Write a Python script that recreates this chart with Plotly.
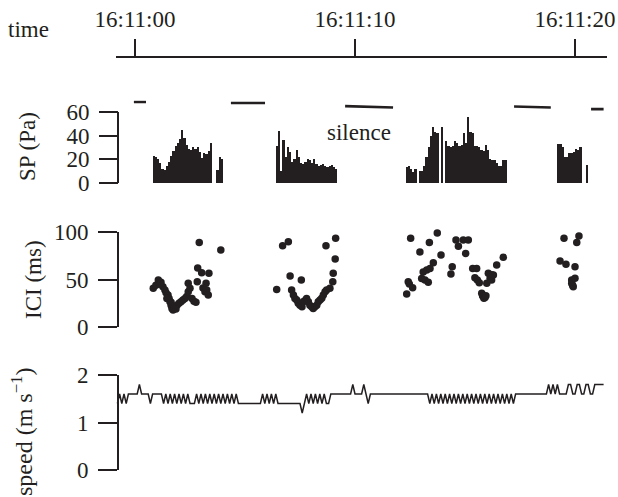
import plotly.graph_objects as go

W, H = 618, 497
INK = "#231f20"
FONT = "Liberation Serif, Times New Roman, serif"

# ---------------- data ----------------
time_tick_vals = [0, 10, 20]                       # seconds after 16:11:00
time_tick_text = ["16:11:00", "16:11:10", "16:11:20"]

# sound pressure bursts (Pa), bars every 0.1 s starting at sp_burst_start
sp_dt = 0.1
sp_burst_start = [0.8, 3.7, 6.4, 12.3, 19.2]
sp_burst_1 = [23, 22, 20, 17, 12, 11, 14, 18, 23, 27, 31, 34, 37, 45, 38, 32, 29, 28, 30, 29, 30, 26, 21, 25, 24, 27, 34]
sp_burst_2 = [11, 22, 20]
sp_burst_3 = [31, 44, 10, 36, 22, 30, 26, 18, 20, 28, 22, 17, 16, 18, 20, 19, 17, 20, 16, 14, 15, 16, 14, 13, 14, 15, 13, 12]
sp_burst_4 = [13, 14, 12, 9, 12, 0, 10, 10, 14, 22, 30, 40, 47, 43, 42, 0, 47, 0, 35, 31, 30, 31, 35, 34, 31, 32, 42, 34,
              56, 43, 42, 31, 31, 30, 28, 27, 32, 28, 20, 19, 19, 17, 14, 14, 19, 19]
sp_burst_5 = [33, 33, 30, 22, 22, 25, 25, 26, 29, 28, 30, 0, 0, 15]
sp_bursts = [sp_burst_1, sp_burst_2, sp_burst_3, sp_burst_4, sp_burst_5]

# silence periods (s) and the level at which their bars are drawn (Pa)
silence_start = [-0.05, 4.36, 9.55, 17.23, 20.73]
silence_end = [0.5, 5.91, 11.73, 18.9, 21.3]
silence_level_start = [68.4, 67.6, 65.0, 64.6, 62.4]
silence_level_end = [68.4, 67.6, 63.8, 63.8, 62.4]

# inter-click intervals
ici_time = [0.83, 0.95, 1.06, 1.18, 1.27, 1.36, 1.41, 1.50, 1.55, 1.59, 1.64, 1.68, 1.73, 1.82, 1.91, 2.00, 2.09,
            2.18, 2.27, 2.35, 2.42, 2.42, 2.50, 2.59, 2.68, 2.77, 2.83, 2.85, 2.92, 3.03, 3.09, 3.18, 3.23, 3.26,
            3.33, 3.36, 3.90, 1.14, 1.45, 1.64, 1.77, 1.86,
            6.44, 6.71, 6.97, 7.05, 7.12, 7.20, 7.27, 7.35, 7.42, 7.50, 7.56, 7.59, 7.65, 7.73, 7.80, 7.88, 7.95,
            8.03, 8.10, 8.18, 8.26, 8.33, 8.41, 8.49, 8.56, 8.64, 8.71, 8.68, 8.86, 8.99, 9.01, 9.10, 9.12,
            12.35, 12.42, 12.47, 12.53, 12.62, 12.95, 13.03, 13.10, 13.18, 13.26, 13.33, 13.38, 13.41, 13.56,
            13.74, 13.91, 14.36, 14.42, 14.59, 14.70, 14.92, 15.03, 15.15, 15.35, 15.45, 15.53, 15.56, 15.65,
            15.76, 15.80, 15.83, 15.86, 15.91, 15.95, 15.99, 16.06, 16.14, 16.21, 16.21, 16.29, 16.44, 16.74,
            19.32, 19.50, 19.59, 19.85, 19.85, 19.92, 20.00, 20.00, 20.08, 20.18, 19.89]
ici_ms = [40.7, 44, 49.5, 47, 42.5, 39, 36, 33.7, 30, 26.7, 23, 19.6, 18, 21, 23, 25, 26.7,
          28.4, 30, 32, 37, 46, 40.7, 30, 27, 26, 47.7, 62, 89, 57, 41, 37, 46, 39,
          33.7, 56.5, 81, 45, 30, 26, 20, 19,
          39.6, 85.6, 89.8, 53.7, 39, 33.7, 30, 28.4, 25, 23, 49.5, 21.4, 26.7, 28, 30, 26.7, 23,
          21.4, 19.6, 21.4, 23, 26.7, 28.4, 30.2, 33.7, 37, 39, 85.6, 40.7, 47.7, 56.5, 71.6, 93.3,
          34.7, 47.7, 45.3, 93.3, 41.4, 79, 51, 58, 49.5, 60, 47, 89, 61.7, 67.7,
          99, 75.8, 55.8, 63.5, 91.6, 85, 91.6, 77.5, 91.6, 61.7, 51.9, 61.7, 49.5, 46.7,
          35.4, 33, 32, 30.2, 31, 33, 46, 56.5, 51.2, 55, 49.5, 54.7, 65.3, 73.3,
          69.5, 93.3, 66, 49.5, 46, 42.5, 51.2, 63.5, 89, 95.8, 44]

# swimming speed (m/s), sampled every 0.1 s from speed_start
speed_start = -0.8
speed_dt = 0.1
speed = [1.4, 1.6, 1.4, 1.6, 1.4, 1.6, 1.6, 1.6, 1.6, 1.6,
         1.8, 1.6, 1.6, 1.6, 1.6, 1.4, 1.6, 1.6, 1.6, 1.6,
         1.6, 1.4, 1.6, 1.4, 1.6, 1.4, 1.6, 1.4, 1.6, 1.4,
         1.6, 1.4, 1.6, 1.4, 1.4, 1.4, 1.6, 1.4, 1.6, 1.4,
         1.6, 1.4, 1.6, 1.4, 1.6, 1.4, 1.6, 1.4, 1.6, 1.4,
         1.6, 1.4, 1.6, 1.4, 1.6, 1.4, 1.4, 1.4, 1.4, 1.4,
         1.4, 1.4, 1.4, 1.4, 1.4, 1.4, 1.6, 1.4, 1.6, 1.4,
         1.6, 1.4, 1.6, 1.4, 1.4, 1.4, 1.4, 1.4, 1.4, 1.4,
         1.4, 1.4, 1.4, 1.4, 1.2, 1.4, 1.6, 1.4, 1.6, 1.4,
         1.6, 1.4, 1.6, 1.4, 1.6, 1.4, 1.4, 1.6, 1.6, 1.6,
         1.6, 1.6, 1.6, 1.6, 1.6, 1.6, 1.6, 1.8, 1.6, 1.6,
         1.6, 1.6, 1.8, 1.6, 1.4, 1.6, 1.6, 1.6, 1.6, 1.6,
         1.6, 1.6, 1.6, 1.6, 1.6, 1.6, 1.6, 1.6, 1.6, 1.6,
         1.6, 1.6, 1.6, 1.6, 1.6, 1.6, 1.6, 1.6, 1.6, 1.6,
         1.6, 1.6, 1.4, 1.6, 1.4, 1.6, 1.4, 1.6, 1.4, 1.6,
         1.4, 1.6, 1.4, 1.6, 1.4, 1.6, 1.4, 1.6, 1.4, 1.6,
         1.4, 1.6, 1.4, 1.6, 1.4, 1.6, 1.4, 1.6, 1.4, 1.6,
         1.4, 1.6, 1.4, 1.6, 1.4, 1.6, 1.4, 1.6, 1.4, 1.6,
         1.4, 1.6, 1.6, 1.6, 1.6, 1.6, 1.6, 1.6, 1.6, 1.6,
         1.6, 1.6, 1.6, 1.6, 1.6, 1.6, 1.8, 1.6, 1.8, 1.6,
         1.8, 1.6, 1.6, 1.6, 1.6, 1.8, 1.8, 1.6, 1.6, 1.8,
         1.8, 1.6, 1.6, 1.8, 1.8, 1.6, 1.6, 1.8, 1.8, 1.8,
         1.8, 1.8]

# ---------------- layout helpers ----------------
def fx(px):
    return px / W

def fy(px):
    return 1 - px / H

T0_PX, PX_PER_S = 135.0, 22.0
def t_at(px):
    return (px - T0_PX) / PX_PER_S

SP_PX_PER_PA = 71.0 / 60.0
SP_TOP = 70

sp_x, sp_y = [], []
for start, burst in zip(sp_burst_start, sp_bursts):
    for k, v in enumerate(burst):
        sp_x.append(start + sp_dt * (k + 0.5))
        sp_y.append(v)

sil_x, sil_y = [], []
for a, b, la, lb in zip(silence_start, silence_end, silence_level_start, silence_level_end):
    sil_x += [a, b, None]
    sil_y += [la, lb, None]

speed_time = [speed_start + speed_dt * i for i in range(len(speed))]

fig = go.Figure()
fig.add_trace(go.Bar(x=sp_x, y=sp_y, width=sp_dt, marker=dict(color=INK, line=dict(width=0)),
                     xaxis="x", yaxis="y"))
fig.add_trace(go.Scatter(x=sil_x, y=sil_y, mode="lines", line=dict(color=INK, width=2.6),
                         xaxis="x", yaxis="y", cliponaxis=False))
fig.add_trace(go.Scatter(x=ici_time, y=ici_ms, mode="markers", marker=dict(color=INK, size=7.5),
                         xaxis="x", yaxis="y2", cliponaxis=False))
fig.add_trace(go.Scatter(x=speed_time, y=speed, mode="lines", line=dict(color=INK, width=1.5),
                         xaxis="x", yaxis="y3", cliponaxis=False))

tickfont = dict(family=FONT, size=23, color=INK)
common_y = dict(anchor="free", position=fx(118), ticks="outside", ticklen=19, tickwidth=2,
                tickcolor=INK, linecolor=INK, linewidth=2, showgrid=False, zeroline=False,
                tickfont=tickfont, ticklabelstandoff=5, fixedrange=True, automargin=False)

fig.update_layout(
    width=W, height=H, margin=dict(l=0, r=0, t=0, b=0, autoexpand=False),
    paper_bgcolor="white", plot_bgcolor="white", showlegend=False, bargap=0,
    font=dict(family=FONT, color=INK),
    xaxis=dict(domain=[fx(116), fx(607)], range=[t_at(116), t_at(607)], anchor="free",
               position=fy(57), side="top", showline=True, linecolor=INK, linewidth=2,
               ticks="outside", ticklen=17, tickwidth=2, tickcolor=INK,
               tickvals=time_tick_vals, ticktext=time_tick_text, tickfont=tickfont,
               showgrid=False, zeroline=False, ticklabelstandoff=3, automargin=False),
    yaxis=dict(domain=[fy(183), fy(183 - SP_TOP * SP_PX_PER_PA)], range=[0, SP_TOP],
               tickvals=[0, 20, 40, 60], showline=False, **common_y),
    yaxis2=dict(domain=[fy(327), fy(232)], range=[0, 100], tickvals=[0, 50, 100],
                showline=True, **common_y),
    yaxis3=dict(domain=[fy(470), fy(375)], range=[0, 2], tickvals=[0, 1, 2],
                showline=True, **common_y),
)

fig.add_shape(type="line", xref="paper", yref="y", x0=fx(118), x1=fx(118), y0=0, y1=60,
              line=dict(color=INK, width=2))

ann_font = dict(family=FONT, size=23, color=INK)
fig.add_annotation(text="time", xref="paper", yref="paper", x=fx(6), y=fy(29),
                   xanchor="left", yanchor="middle", showarrow=False, font=ann_font)
fig.add_annotation(text="silence", xref="x", yref="y", x=10.2, y=42.3,
                   xanchor="center", yanchor="middle", showarrow=False, font=ann_font)
fig.add_annotation(text="SP (Pa)", xref="paper", yref="paper", x=fx(27), y=fy(147),
                   xanchor="center", yanchor="middle",
                   textangle=-90, showarrow=False, font=ann_font)
fig.add_annotation(text="ICI (ms)", xref="paper", yref="paper", x=fx(33), y=fy(280),
                   xanchor="center", yanchor="middle",
                   textangle=-90, showarrow=False, font=ann_font)
fig.add_annotation(text="speed (m s<sup>−1</sup>)", xref="paper", yref="paper", x=fx(22), y=fy(432),
                   xanchor="center", yanchor="middle",
                   textangle=-90, showarrow=False, font=dict(family=FONT, size=24, color=INK))

fig.write_html("out.html", config={"displayModeBar": False},
               post_script="document.body.style.margin='0';")
